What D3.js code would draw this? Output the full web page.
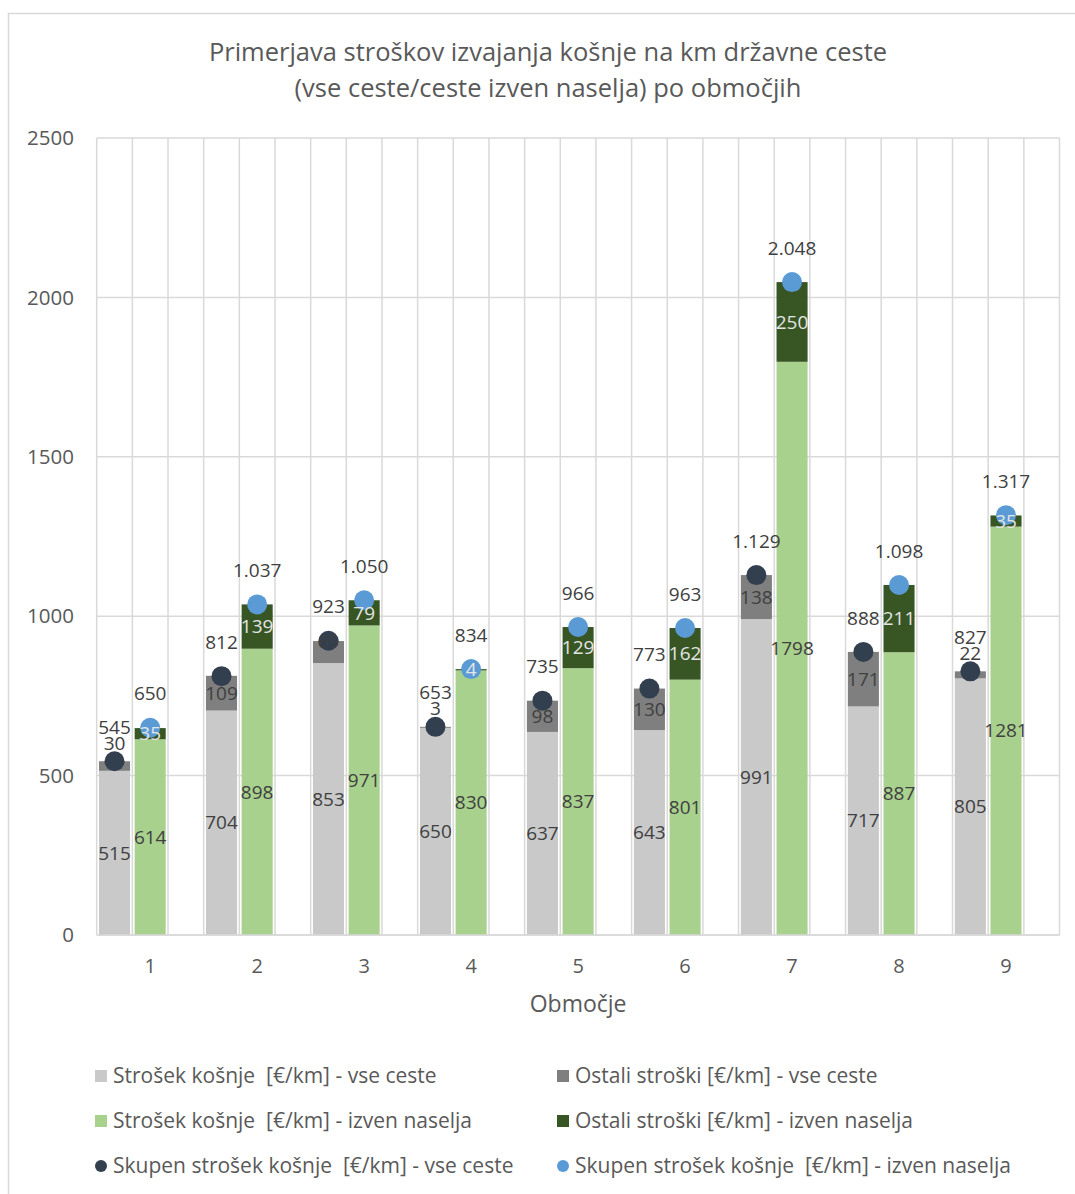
<!DOCTYPE html>
<html>
<head>
<meta charset="utf-8">
<script src="https://cdn.jsdelivr.net/npm/d3@7/dist/d3.min.js"></script>
<style>
  html, body { margin: 0; padding: 0; background: #ffffff; }
  svg { display: block; }
  text { font-family: "Open Sans", "Noto Sans", sans-serif; white-space: pre; }
</style>
</head>
<body>
<svg id="chart" width="1075" height="1194"></svg>
<script>
// ---- data ----
const categories = ["1", "2", "3", "4", "5", "6", "7", "8", "9"];
const kosnjaVse = [515, 704, 853, 650, 637, 643, 991, 717, 805];
const ostaliVse = [30, 109, 69, 3, 98, 130, 138, 171, 22];
const skupenVse = [545, 812, 923, 653, 735, 773, 1129, 888, 827];
const kosnjaIzven = [614, 898, 971, 830, 837, 801, 1798, 887, 1281];
const ostaliIzven = [35, 139, 79, 4, 129, 162, 250, 211, 35];
const skupenIzven = [650, 1037, 1050, 834, 966, 963, 2048, 1098, 1317];
const yTicks = [0, 500, 1000, 1500, 2000, 2500];
const titleLines = ["Primerjava stroškov izvajanja košnje na km državne ceste",
                    "(vse ceste/ceste izven naselja) po območjih"];
const xTitle = "Območje";
const legendLabels = [
  "Strošek košnje  [€/km] - vse ceste",
  "Ostali stroški [€/km] - vse ceste",
  "Strošek košnje  [€/km] - izven naselja",
  "Ostali stroški [€/km] - izven naselja",
  "Skupen strošek košnje  [€/km] - vse ceste",
  "Skupen strošek košnje  [€/km] - izven naselja"
];

(function () {
// ---- styles ----
const C = {
  kosnjaVse: "#c9c9c9",
  ostaliVse: "#7f7f7f",
  kosnjaIzven: "#a9d18e",
  ostaliIzven: "#375623",
  skupenVse: "#323f4f",
  skupenIzven: "#5b9bd5",
  grid: "#d9d9d9",
  text: "#595959",
  label: "#404040",
  labelLight: "#e4e4e4"
};

const svg = d3.select("#chart");
const pL = 96.7, pR = 1059.5, pT = 138, pB = 935;

// chart border
svg.append("rect").attr("x", 8.5).attr("y", 13.5).attr("width", 1080).attr("height", 1200)
  .attr("fill", "#fff").attr("stroke", C.grid).attr("stroke-width", 1.5);

const x0 = d3.scaleBand().domain(categories).range([pL, pR]).padding(0);
const x1 = d3.scaleBand().domain(["vse", "izven", "prazno"]).range([0, x0.bandwidth()]).padding(0);
const y = d3.scaleLinear().domain([0, 2500]).range([pB, pT]);
const fmtTotal = d3.formatLocale({ decimal: ",", thousands: ".", grouping: [3], currency: ["", "€"] }).format(",");

// grid
const g = svg.append("g");
g.selectAll("line.h").data(yTicks).join("line")
  .attr("x1", pL).attr("x2", pR)
  .attr("y1", d => y(d)).attr("y2", d => y(d))
  .attr("stroke", C.grid).attr("stroke-width", 1.5);
const vLines = [];
categories.forEach(c => { ["vse", "izven", "prazno"].forEach(s => vLines.push(x0(c) + x1(s))); });
vLines.push(pR);
g.selectAll("line.v").data(vLines).join("line")
  .attr("x1", d => d).attr("x2", d => d)
  .attr("y1", pT).attr("y2", pB)
  .attr("stroke", C.grid).attr("stroke-width", 1.5);

// y axis labels
svg.append("g").selectAll("text").data(yTicks).join("text")
  .attr("x", 74).attr("y", d => y(d)).attr("dy", "0.35em")
  .attr("text-anchor", "end").attr("font-size", 20.5).attr("fill", C.text)
  .text(d => d);

// x axis labels
svg.append("g").selectAll("text").data(categories).join("text")
  .attr("x", d => x0(d) + x0.bandwidth() / 2).attr("y", 966).attr("dy", "0.35em")
  .attr("text-anchor", "middle").attr("font-size", 20).attr("fill", C.text)
  .text(d => d);
svg.append("text").attr("x", (pL + pR) / 2).attr("y", 1004).attr("dy", "0.35em")
  .attr("text-anchor", "middle").attr("font-size", 23).attr("fill", C.text).text(xTitle);

// title
svg.append("g").selectAll("text").data(titleLines).join("text")
  .attr("x", 548).attr("y", (d, i) => 52 + i * 36).attr("dy", "0.35em")
  .attr("text-anchor", "middle").attr("font-size", 25.5).attr("fill", C.text)
  .text(d => d);

// bars
const inset = 2.3;
const bw = x1.bandwidth() - 2 * inset;
function segs(sub, base, extra, cBase, cExtra) {
  return categories.map((c, i) => ({
    c, i, sub,
    b0: 0, b1: base[i], e0: base[i], e1: base[i] + extra[i],
    vb: base[i], ve: extra[i], cBase, cExtra
  }));
}
const allSegs = segs("vse", kosnjaVse, ostaliVse, C.kosnjaVse, C.ostaliVse)
  .concat(segs("izven", kosnjaIzven, ostaliIzven, C.kosnjaIzven, C.ostaliIzven));

const bars = svg.append("g");
bars.selectAll("rect.base").data(allSegs).join("rect")
  .attr("x", d => x0(d.c) + x1(d.sub) + inset).attr("width", bw)
  .attr("y", d => y(d.b1)).attr("height", d => y(d.b0) - y(d.b1))
  .attr("fill", d => d.cBase);
bars.selectAll("rect.extra").data(allSegs).join("rect")
  .attr("x", d => x0(d.c) + x1(d.sub) + inset).attr("width", bw)
  .attr("y", d => y(d.e1)).attr("height", d => Math.max(1, y(d.e0) - y(d.e1)))
  .attr("fill", d => d.cExtra);

// baseline
svg.append("line").attr("x1", pL).attr("x2", pR).attr("y1", pB).attr("y2", pB)
  .attr("stroke", C.grid).attr("stroke-width", 1.5);

// dots
const dotData = categories.map((c, i) => ({ c, sub: "vse", v: skupenVse[i], col: C.skupenVse }))
  .concat(categories.map((c, i) => ({ c, sub: "izven", v: skupenIzven[i], col: C.skupenIzven })));
svg.append("g").selectAll("circle").data(dotData).join("circle")
  .attr("cx", d => x0(d.c) + x1(d.sub) + x1.bandwidth() / 2)
  .attr("cy", d => y(d.v)).attr("r", 10).attr("fill", d => d.col);

// segment labels
const lab = svg.append("g").attr("font-size", 19).attr("text-anchor", "middle");
lab.selectAll("text.base").data(allSegs).join("text")
  .attr("x", d => x0(d.c) + x1(d.sub) + x1.bandwidth() / 2)
  .attr("y", d => y((d.b0 + d.b1) / 2)).attr("dy", "0.35em")
  .attr("fill", C.label).text(d => d.vb);
lab.selectAll("text.extra").data(allSegs).join("text")
  .attr("x", d => x0(d.c) + x1(d.sub) + x1.bandwidth() / 2)
  .attr("y", d => {
    const h = y(d.e0) - y(d.e1);
    if (d.sub === "vse" && h < 12) return y(d.e1) - 18;
    if (d.sub === "vse" && h < 30) return y(d.e1);
    return y((d.e0 + d.e1) / 2);
  })
  .attr("dy", "0.35em")
  .attr("fill", d => d.sub === "izven" ? C.labelLight : C.label).text(d => d.ve);
lab.selectAll("text.total").data(dotData).join("text")
  .attr("x", d => x0(d.c) + x1(d.sub) + x1.bandwidth() / 2)
  .attr("y", d => y(d.v) - 34).attr("dy", "0.35em")
  .attr("fill", C.label).text(d => fmtTotal(d.v));

// legend
const legendItems = [
  { t: legendLabels[0], col: C.kosnjaVse, shape: "rect" },
  { t: legendLabels[1], col: C.ostaliVse, shape: "rect" },
  { t: legendLabels[2], col: C.kosnjaIzven, shape: "rect" },
  { t: legendLabels[3], col: C.ostaliIzven, shape: "rect" },
  { t: legendLabels[4], col: C.skupenVse, shape: "circle" },
  { t: legendLabels[5], col: C.skupenIzven, shape: "circle" }
];
const lg = svg.append("g");
const colX = [95, 557], rowY = [1076, 1121, 1166];
legendItems.forEach((it, k) => {
  const cx = colX[k % 2], cy = rowY[Math.floor(k / 2)];
  if (it.shape === "rect") {
    lg.append("rect").attr("x", cx).attr("y", cy - 6).attr("width", 12).attr("height", 12).attr("fill", it.col);
  } else {
    lg.append("circle").attr("cx", cx + 6).attr("cy", cy).attr("r", 6).attr("fill", it.col);
  }
  lg.append("text").attr("x", cx + 18).attr("y", cy).attr("dy", "0.35em")
    .attr("font-size", 21).attr("fill", C.text).text(it.t);
});
})();
</script>
</body>
</html>
